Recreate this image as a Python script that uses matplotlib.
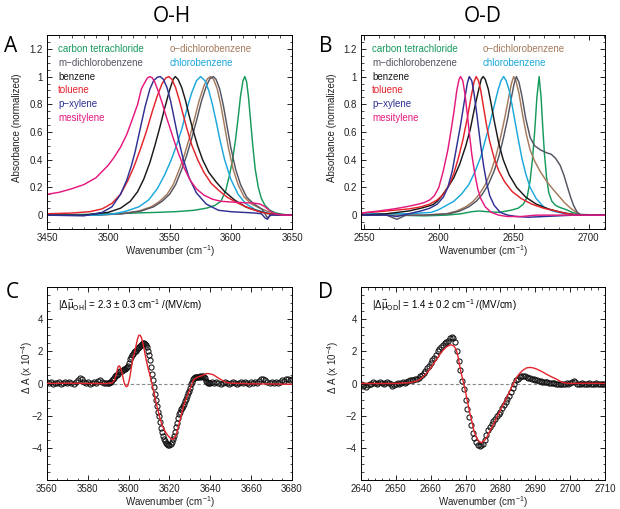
import numpy as np
import matplotlib
matplotlib.use("Agg")
import matplotlib.pyplot as plt
from matplotlib.ticker import AutoMinorLocator

plt.rcParams['font.family'] = ['Liberation Sans', 'DejaVu Sans']
plt.rcParams['mathtext.default'] = 'regular'
plt.rcParams['font.size'] = 7

# ---------------- Panel A (O-H) normalized spectra ----------------
solvents = ["carbon tetrachloride", "o\u2212dichlorobenzene", "m\u2212dichlorobenzene",
            "chlorobenzene", "benzene", "toluene", "p\u2212xylene", "mesitylene"]
colors = {"ccl4": "#169a5c", "odcb": "#a57a5c", "mdcb": "#555562", "cb": "#1ba8dc",
          "bz": "#1a1a1a", "tol": "#e3232a", "px": "#2e3192", "mes": "#e5197d"}

A_mes_x = [3450, 3460, 3470, 3480, 3490, 3500, 3505, 3510, 3515, 3520, 3524, 3527, 3530, 3532, 3534,
           3536, 3538, 3541, 3544, 3547, 3550, 3554, 3558, 3562, 3567, 3572, 3578, 3585, 3592, 3600,
           3610, 3618, 3624, 3628, 3632, 3636, 3642, 3650]
A_mes_y = [0.15, 0.165, 0.19, 0.22, 0.27, 0.36, 0.42, 0.49, 0.58, 0.70, 0.80, 0.91, 0.96, 0.99, 1.0,
           0.99, 0.96, 0.89, 0.81, 0.72, 0.64, 0.53, 0.43, 0.34, 0.25, 0.19, 0.145, 0.115, 0.10, 0.095,
           0.09, 0.088, 0.08, 0.06, 0.03, 0.01, 0.0, 0.0]

A_px_x = [3450, 3480, 3495, 3503, 3510, 3515, 3519, 3522, 3526, 3530, 3534, 3537, 3540, 3542.4, 3545,
          3548, 3551, 3554, 3557, 3561, 3566, 3572, 3580, 3590, 3600, 3610, 3620, 3625, 3628, 3630,
          3632, 3636, 3650]
A_px_y = [0.0, -0.005, 0.02, 0.06, 0.15, 0.25, 0.36, 0.46, 0.62, 0.78, 0.91, 0.97, 0.995, 1.0, 0.98,
          0.92, 0.82, 0.69, 0.56, 0.41, 0.27, 0.16, 0.08, 0.035, 0.025, 0.02, 0.015, 0.01, -0.02, -0.03,
          0.0, 0.0, 0.0]

A_tol_x = [3450, 3470, 3485, 3495, 3503, 3510, 3516, 3521, 3526, 3531, 3536, 3540, 3544, 3547, 3549.4,
           3552, 3555, 3558, 3561, 3564, 3568, 3573, 3578, 3584, 3590, 3597, 3605, 3615, 3625, 3635, 3650]
A_tol_y = [0.01, 0.015, 0.025, 0.045, 0.085, 0.15, 0.25, 0.35, 0.47, 0.60, 0.75, 0.86, 0.95, 0.99, 1.0,
           0.98, 0.92, 0.83, 0.73, 0.63, 0.51, 0.40, 0.31, 0.23, 0.18, 0.13, 0.09, 0.05, 0.02, 0.005, 0.0]

A_bz_x = [3450, 3480, 3500, 3510, 3518, 3524, 3529, 3534, 3538, 3542, 3546, 3550, 3553, 3554.7, 3557,
          3560, 3563, 3566, 3569, 3573, 3577, 3582, 3588, 3595, 3603, 3612, 3622, 3632, 3650]
A_bz_y = [0.0, 0.0, 0.02, 0.05, 0.1, 0.17, 0.26, 0.38, 0.5, 0.63, 0.77, 0.9, 0.98, 1.0, 0.98,
          0.92, 0.83, 0.72, 0.62, 0.5, 0.4, 0.31, 0.24, 0.17, 0.11, 0.06, 0.03, 0.008, 0.0]

A_cb_x = [3450, 3490, 3505, 3515, 3525, 3533, 3540, 3546, 3551, 3556, 3560, 3564, 3568, 3572, 3575.4,
          3579, 3582, 3585, 3588, 3591, 3595, 3600, 3606, 3612, 3620, 3630, 3640, 3650]
A_cb_y = [0.0, 0.0, 0.01, 0.03, 0.06, 0.11, 0.19, 0.29, 0.39, 0.51, 0.62, 0.76, 0.88, 0.97, 1.0,
          0.97, 0.9, 0.8, 0.68, 0.55, 0.4, 0.26, 0.15, 0.085, 0.04, 0.015, 0.0, 0.0]

A_odcb_x = [3450, 3490, 3510, 3525, 3535, 3542, 3548, 3553, 3558, 3562, 3566, 3570, 3574, 3578, 3581,
            3583.6, 3586, 3589, 3592, 3595, 3598, 3602, 3606, 3611, 3617, 3624, 3632, 3640, 3650]
A_odcb_y = [0.0, 0.0, 0.01, 0.03, 0.06, 0.1, 0.15, 0.22, 0.33, 0.43, 0.55, 0.68, 0.82, 0.93, 0.985,
            1.0, 0.98, 0.91, 0.79, 0.64, 0.49, 0.33, 0.22, 0.13, 0.08, 0.05, 0.02, 0.0, 0.0]

A_mdcb_x = [3450, 3490, 3512, 3527, 3537, 3544, 3550, 3555, 3560, 3564, 3568, 3572, 3576, 3580, 3583,
            3585.8, 3588, 3591, 3594, 3597, 3600, 3604, 3608, 3613, 3619, 3626, 3630, 3634, 3642, 3650]
A_mdcb_y = [0.0, 0.0, 0.01, 0.03, 0.06, 0.1, 0.15, 0.22, 0.33, 0.43, 0.55, 0.68, 0.82, 0.93, 0.985,
            1.0, 0.98, 0.91, 0.79, 0.64, 0.49, 0.33, 0.22, 0.13, 0.08, 0.04, -0.02, 0.01, 0.0, 0.0]

A_ccl4_x = [3450, 3480, 3500, 3520, 3540, 3555, 3570, 3580, 3587, 3592, 3596, 3599, 3601.5, 3604, 3606,
            3608, 3610, 3611.5, 3613, 3614.5, 3616, 3618, 3620, 3622.5, 3625, 3628, 3632, 3637, 3643, 3650]
A_ccl4_y = [0.0, 0.005, 0.01, 0.015, 0.02, 0.025, 0.035, 0.05, 0.07, 0.1, 0.18, 0.29, 0.4, 0.55, 0.7,
            0.86, 0.97, 1.0, 0.96, 0.85, 0.7, 0.5, 0.33, 0.2, 0.12, 0.07, 0.035, 0.015, 0.005, 0.0]

# ---------------- Panel B (O-D) normalized spectra ----------------
B_mes_x = [2548, 2560, 2570, 2578, 2585, 2590, 2594, 2597, 2600, 2603, 2606, 2608, 2610, 2612, 2613.5,
           2614.5, 2616, 2617.5, 2619, 2620.5, 2622, 2624, 2626, 2628, 2631, 2635, 2640, 2646, 2655, 2665,
           2680, 2695, 2711]
B_mes_y = [0.015, 0.03, 0.045, 0.06, 0.076, 0.09, 0.11, 0.14, 0.2, 0.32, 0.47, 0.6, 0.74, 0.9, 0.98,
           1.0, 0.97, 0.87, 0.73, 0.58, 0.44, 0.3, 0.19, 0.12, 0.06, 0.02, 0.0, -0.01, -0.01, 0.0,
           0.0, 0.0, 0.0]

B_px_x = [2548, 2565, 2572, 2580, 2588, 2594, 2599, 2603, 2606, 2609, 2612, 2614.5, 2617, 2619, 2620.3,
          2622, 2623.5, 2625, 2626.5, 2628, 2630, 2632, 2634, 2637, 2641, 2646, 2652, 2660, 2670, 2690, 2711]
B_px_y = [0.0, 0.0, -0.01, 0.01, 0.03, 0.05, 0.08, 0.13, 0.2, 0.32, 0.5, 0.65, 0.82, 0.95, 1.0,
          0.97, 0.88, 0.76, 0.63, 0.5, 0.35, 0.23, 0.14, 0.07, 0.02, 0.0, -0.01, -0.015, -0.01, 0.0, 0.0]

B_tol_x = [2548, 2560, 2570, 2580, 2588, 2594, 2599, 2603, 2607, 2610, 2613, 2616, 2619, 2621.5, 2623.5,
           2624.9, 2626.5, 2628, 2630, 2632, 2634, 2637, 2640, 2644, 2649, 2655, 2662, 2670, 2678, 2686,
           2695, 2711]
B_tol_y = [0.015, 0.025, 0.035, 0.045, 0.06, 0.08, 0.11, 0.15, 0.22, 0.3, 0.41, 0.54, 0.7, 0.85, 0.96,
           1.0, 0.97, 0.9, 0.77, 0.64, 0.53, 0.41, 0.32, 0.24, 0.17, 0.12, 0.08, 0.05, 0.03, 0.01,
           0.0, 0.0]

B_bz_x = [2548, 2565, 2580, 2588, 2593, 2596, 2599, 2602, 2606, 2610, 2614, 2618, 2621, 2624, 2626.5,
          2628.3, 2629.6, 2631, 2633, 2635, 2637, 2640, 2643, 2647, 2652, 2658, 2665, 2673, 2682, 2692, 2711]
B_bz_y = [0.0, 0.01, 0.03, 0.05, 0.065, 0.075, 0.1, 0.14, 0.2, 0.27, 0.37, 0.5, 0.62, 0.78, 0.9,
          0.98, 1.0, 0.98, 0.91, 0.8, 0.68, 0.52, 0.4, 0.29, 0.2, 0.13, 0.08, 0.045, 0.02, 0.0, 0.0]

B_cb_x = [2548, 2580, 2595, 2600, 2605, 2610, 2615, 2620, 2624, 2628, 2631, 2634, 2637, 2639.5, 2641.5,
          2643.3, 2645, 2647, 2649, 2651, 2653, 2655.5, 2658, 2661, 2665, 2670, 2676, 2684, 2695, 2711]
B_cb_y = [0.01, 0.01, 0.02, 0.04, 0.07, 0.1, 0.15, 0.22, 0.31, 0.42, 0.54, 0.66, 0.79, 0.9, 0.97,
          1.0, 0.97, 0.9, 0.79, 0.67, 0.55, 0.41, 0.3, 0.2, 0.12, 0.06, 0.03, 0.01, 0.0, 0.0]

B_odcb_x = [2548, 2590, 2605, 2612, 2618, 2623, 2627, 2631, 2635, 2638, 2641, 2644, 2646.5, 2648.5, 2650,
            2651.5, 2653.5, 2656, 2658.5, 2661, 2664, 2668, 2672, 2676, 2680, 2684, 2688, 2692, 2695, 2700, 2711]
B_odcb_y = [0.0, 0.0, 0.01, 0.03, 0.06, 0.1, 0.15, 0.22, 0.32, 0.42, 0.55, 0.7, 0.84, 0.95, 1.0,
            0.97, 0.88, 0.72, 0.58, 0.47, 0.39, 0.31, 0.245, 0.19, 0.14, 0.09, 0.05, 0.02, 0.0, 0.0, 0.0]

B_mdcb_x = [2548, 2565, 2572, 2578, 2590, 2607, 2614, 2620, 2625, 2629, 2633, 2637, 2640, 2643, 2646,
            2648.5, 2650.3, 2651.8, 2653.5, 2655.5, 2658, 2661, 2664, 2668, 2672, 2675, 2678, 2681, 2683.5, 2686,
            2688, 2690, 2692.5, 2695, 2700, 2711]
B_mdcb_y = [0.0, 0.0, -0.03, 0.0, 0.0, 0.01, 0.03, 0.06, 0.1, 0.15, 0.22, 0.32, 0.42, 0.55, 0.7,
            0.85, 0.95, 1.0, 0.96, 0.86, 0.7, 0.56, 0.5, 0.47, 0.45, 0.44, 0.41, 0.36, 0.29, 0.2,
            0.13, 0.07, 0.02, 0.0, 0.0, 0.0]

B_ccl4_x = [2548, 2570, 2590, 2605, 2615, 2622, 2627, 2632, 2640, 2648, 2653, 2656.5, 2659, 2661, 2662.5,
            2664, 2665.5, 2667, 2668.3, 2669.5, 2670.5, 2672, 2673.5, 2675.5, 2678, 2681, 2685, 2689, 2695, 2711]
B_ccl4_y = [0.0, 0.0, -0.005, 0.0, 0.01, 0.025, 0.03, 0.025, 0.02, 0.035, 0.05, 0.08, 0.13, 0.25, 0.4,
            0.6, 0.85, 1.0, 0.85, 0.62, 0.45, 0.27, 0.16, 0.1, 0.07, 0.055, 0.04, 0.02, 0.005, 0.0]

# ---------------- Panel C (O-H Stark) ----------------
C_x1 = np.arange(3560, 3591, 1.0)
C_y1 = [0.1, 0.05, 0.1, 0.0, 0.05, 0.05, 0.1, 0.0, 0.05, 0.1,
        0.05, 0.1, 0.05, 0.0, 0.1, 0.2, 0.35, 0.3, 0.1, 0.05,
        0.1, 0.0, 0.05, 0.1, 0.05, 0.15, 0.2, 0.1, 0.05, 0.05,
        0.05]
C_x2 = np.arange(3590.5, 3640.5, 0.5)
C_y2 = [0.05, 0.1, 0.1, 0.2, 0.3, 0.37, 0.45, 0.5, 0.55, 0.62,
        0.69, 0.75, 0.8, 0.85, 0.88, 0.9, 0.95, 1.0, 1.1, 1.3,
        1.5, 1.65, 1.75, 1.85, 1.95, 2.0, 2.05, 2.15, 2.2, 2.3,
        2.35, 2.4, 2.45, 2.5, 2.5, 2.45, 2.4, 2.25, 2.05, 1.8,
        1.45, 1.05, 0.6, 0.2, -0.2, -0.65, -1.05, -1.4, -1.75, -2.05,
        -2.4, -2.75, -3.0, -3.25, -3.45, -3.6, -3.7, -3.78, -3.82, -3.8,
        -3.75, -3.65, -3.45, -3.25, -3.0, -2.7, -2.45, -2.15, -1.9, -1.75,
        -1.6, -1.5, -1.4, -1.25, -1.1, -0.95, -0.8, -0.6, -0.45, -0.25,
        -0.05, 0.1, 0.25, 0.35, 0.4, 0.4, 0.42, 0.4, 0.42, 0.45,
        0.42, 0.45, 0.45, 0.4, 0.35, 0.15, 0.1, 0.05, 0.05, 0.05]
C_x3 = np.arange(3641, 3681, 1.0)
C_y3 = [0.1, 0.05, 0.1, 0.05, 0.0, 0.05, 0.1, 0.05, 0.0, 0.05,
        0.1, 0.05, 0.0, 0.05, 0.1, 0.05, 0.1, 0.05, 0.0, 0.1,
        0.05, 0.1, 0.05, 0.15, 0.25, 0.3, 0.2, 0.1, 0.05, 0.1,
        0.05, 0.1, 0.05, 0.1, 0.2, 0.15, 0.25, 0.3, 0.2, 0.3]

C_fit_x = [3560, 3570, 3580, 3585, 3590, 3592, 3593, 3594, 3594.8, 3595.5, 3596.4, 3597, 3597.7, 3598.3, 3598.9,
           3599.5, 3600.2, 3600.8, 3601.3, 3602, 3603, 3603.7, 3604.3, 3605, 3605.6, 3606.2, 3606.8, 3607.4, 3608, 3608.7,
           3609.5, 3610.3, 3611.1, 3612, 3612.8, 3613.6, 3614.4, 3615.2, 3616.4, 3617.7, 3619, 3620.2, 3621, 3621.8, 3622.6,
           3623.4, 3624.2, 3625.1, 3625.9, 3626.7, 3627.5, 3628.4, 3629.2, 3630, 3630.8, 3631.6, 3632.5, 3633.3, 3634.5, 3635.7,
           3637, 3638.2, 3639.8, 3641.5, 3643, 3644.8, 3646.5, 3648, 3650, 3655, 3660, 3670, 3680]
C_fit_y = [0.0, 0.02, 0.0, 0.0, 0.0, 0.05, 0.2, 0.6, 1.05, 1.1, 0.85, 0.5, 0.1, -0.12, -0.2,
           -0.15, 0.17, 0.55, 1.0, 1.5, 2.0, 2.4, 2.75, 3.0, 3.0, 2.87, 2.6, 2.25, 1.85, 1.4,
           0.95, 0.58, 0.15, -0.35, -0.8, -1.3, -1.7, -2.1, -2.6, -2.95, -3.2, -3.37, -3.45, -3.47, -3.35,
           -3.15, -2.75, -2.3, -1.9, -1.5, -1.15, -0.87, -0.6, -0.35, -0.1, 0.17, 0.3, 0.37, 0.43, 0.48,
           0.55, 0.62, 0.6, 0.54, 0.42, 0.27, 0.15, 0.06, 0.02, 0.0, -0.02, -0.03, -0.05]

# ---------------- Panel D (O-D Stark) ----------------
D_x1 = np.arange(2640, 2655.5, 0.5)
D_y1 = [-0.05, -0.15, -0.1, -0.2, -0.1, -0.05, 0.0, 0.1, 0.05, 0.0,
        0.05, 0.1, 0.05, 0.0, 0.05, 0.1, 0.05, -0.05, -0.15, -0.1,
        0.0, 0.05, 0.0, 0.05, 0.1, 0.05, 0.1, 0.15, 0.2, 0.2,
        0.2]
D_x2 = np.arange(2655.5, 2690.5, 0.5)
D_y2 = [0.25, 0.3, 0.37, 0.45, 0.55, 0.65, 0.8, 0.95, 1.1, 1.25,
        1.45, 1.6, 1.8, 2.0, 2.15, 2.3, 2.4, 2.5, 2.6, 2.65,
        2.8, 2.87, 2.85, 2.6, 2.05, 1.4, 0.85, 0.15, -0.35, -1.0,
        -1.6, -2.1, -2.6, -3.05, -3.4, -3.65, -3.8, -3.88, -3.85, -3.75,
        -3.5, -3.2, -2.9, -2.7, -2.5, -2.35, -2.2, -2.05, -1.9, -1.75,
        -1.55, -1.35, -1.15, -0.95, -0.75, -0.5, -0.25, 0.0, 0.2, 0.3,
        0.4, 0.45, 0.48, 0.47, 0.42, 0.37, 0.33, 0.3, 0.27, 0.22]
D_x3 = np.arange(2690.5, 2710.5, 0.5)
D_y3 = [0.2, 0.17, 0.15, 0.12, 0.1, 0.08, 0.07, 0.06, 0.05, 0.03,
        0.02, 0.0, -0.02, -0.04, -0.05, -0.03, 0.0, 0.05, 0.0, 0.05,
        0.1, 0.17, 0.1, 0.0, -0.05, 0.0, 0.05, 0.0, -0.05, 0.0,
        0.05, 0.0, -0.05, 0.0, 0.05, 0.0, -0.05, 0.0, 0.0, -0.05]

D_fit_x = [2640, 2650, 2654, 2656, 2657, 2658.4, 2659.8, 2661.2, 2662.7, 2663.6, 2664.6, 2665.7, 2666.7, 2667.4, 2667.9,
           2668.4, 2668.9, 2669.4, 2669.9, 2670.3, 2670.8, 2671.3, 2671.9, 2672.4, 2673, 2673.7, 2674.6, 2675.6, 2676.3, 2677,
           2678, 2678.9, 2679.9, 2680.8, 2681.8, 2682.7, 2683.6, 2684.6, 2685.6, 2686.6, 2687.5, 2688.5, 2689.4, 2690.4, 2691.8,
           2693.2, 2694.6, 2696.1, 2697, 2698, 2700, 2705, 2710]
D_fit_y = [0.0, 0.0, 0.05, 0.15, 0.27, 0.55, 0.9, 1.35, 1.83, 2.08, 2.29, 2.41, 2.33, 2.05, 1.6,
           1.0, 0.5, 0.06, -0.4, -0.87, -1.4, -1.9, -2.45, -2.95, -3.3, -3.58, -3.68, -3.5, -3.25, -2.95,
           -2.55, -2.12, -1.7, -1.29, -0.88, -0.46, -0.05, 0.37, 0.65, 0.85, 0.97, 1.0, 0.97, 0.9, 0.75,
           0.58, 0.42, 0.27, 0.15, 0.05, 0.0, 0.02, 0.0]

C_text = r'$|\Delta\vec{\mu}_{\rm OH}|$ = 2.3 $\pm$ 0.3 cm$^{-1}$ /(MV/cm)'
D_text = r'$|\Delta\vec{\mu}_{\rm OD}|$ = 1.4 $\pm$ 0.2 cm$^{-1}$ /(MV/cm)'

# ------------------------------------------------------------------
fig = plt.figure(figsize=(6.2, 5.09), dpi=100)
W, H = 620.0, 509.0


def mkax(l, r, t, b):
    return fig.add_axes([l / W, 1 - b / H, (r - l) / W, (b - t) / H])


axA = mkax(47, 292, 35, 229)
axB = mkax(361, 605, 35, 229)
axC = mkax(47, 292, 287, 480)
axD = mkax(361, 605, 287, 480)


def style(ax, xminor, yminor, xlab_y):
    ax.xaxis.set_minor_locator(AutoMinorLocator(xminor))
    ax.yaxis.set_minor_locator(AutoMinorLocator(yminor))
    ax.tick_params(which='both', direction='in', top=True, right=True, labelsize=7, pad=3,
                   labelcolor='#222222')
    ax.tick_params(which='major', length=3.5, width=0.6)
    ax.tick_params(which='minor', length=1.8, width=0.5)
    for s in ax.spines.values():
        s.set_linewidth(0.7)
    ax.set_xlabel('Wavenumber (cm$^{-1}$)', fontsize=7, color='#222222')
    ax.xaxis.set_label_coords(0.5, xlab_y)


lw = 1.05
series_A = [(A_ccl4_x, A_ccl4_y, "ccl4"), (A_odcb_x, A_odcb_y, "odcb"), (A_mdcb_x, A_mdcb_y, "mdcb"),
            (A_cb_x, A_cb_y, "cb"), (A_bz_x, A_bz_y, "bz"), (A_tol_x, A_tol_y, "tol"),
            (A_px_x, A_px_y, "px"), (A_mes_x, A_mes_y, "mes")]
series_B = [(B_ccl4_x, B_ccl4_y, "ccl4"), (B_odcb_x, B_odcb_y, "odcb"), (B_mdcb_x, B_mdcb_y, "mdcb"),
            (B_cb_x, B_cb_y, "cb"), (B_bz_x, B_bz_y, "bz"), (B_tol_x, B_tol_y, "tol"),
            (B_px_x, B_px_y, "px"), (B_mes_x, B_mes_y, "mes")]
keys = ["ccl4", "odcb", "mdcb", "cb", "bz", "tol", "px", "mes"]
label_pos = [(0.045, 1.2), (0.5, 1.2), (0.045, 1.1), (0.5, 1.1),
             (0.045, 1.0), (0.045, 0.9), (0.045, 0.8), (0.045, 0.7)]

for ax, series, xlim, xt in [(axA, series_A, (3450, 3650), [3450, 3500, 3550, 3600, 3650]),
                             (axB, series_B, (2548, 2711), [2550, 2600, 2650, 2700])]:
    for xs, ys, k in series:
        ax.plot(xs, ys, color=colors[k], lw=lw)
    ax.set_xlim(*xlim)
    ax.set_ylim(-0.1, 1.3)
    ax.set_xticks(xt)
    ax.set_yticks([0, 0.2, 0.4, 0.6, 0.8, 1.0, 1.2])
    ax.set_yticklabels(['0', '0.2', '0.4', '0.6', '0.8', '1', '1.2'])
    style(ax, 5, 4, -0.075)
    ax.set_ylabel('Absorbance (normalized)', fontsize=7, color='#222222')
    ax.yaxis.set_label_coords(-0.1, 0.52)
    tr = ax.get_yaxis_transform()
    for name, k, (px_, py_) in zip(solvents, keys, label_pos):
        ax.text(px_, py_, name, color=colors[k], transform=tr, fontsize=7, va='center', ha='left')

for ax, xs_list, ys_list, fx, fy, xlim, xt, txt, ylx in [
        (axC, [C_x1, C_x2, C_x3], [C_y1, C_y2, C_y3], C_fit_x, C_fit_y, (3560, 3680),
         [3560, 3580, 3600, 3620, 3640, 3660, 3680], C_text, -0.05),
        (axD, [D_x1, D_x2, D_x3], [D_y1, D_y2, D_y3], D_fit_x, D_fit_y, (2640, 2710),
         [2640, 2650, 2660, 2670, 2680, 2690, 2700, 2710], D_text, -0.08)]:
    ax.axhline(0, color='#8a8a8a', lw=0.8, ls=(0, (3, 2)), zorder=1)
    xs = np.concatenate(xs_list)
    ys = np.concatenate([np.asarray(y, float) for y in ys_list])
    ax.plot(xs, ys, ls='none', marker='o', ms=3.7, mfc='none', mec='#111111', mew=0.75, zorder=2)
    ax.plot(fx, fy, color='#e3232a', lw=1.0, zorder=3)
    ax.set_xlim(*xlim)
    ax.set_ylim(-6, 6)
    ax.set_xticks(xt)
    ax.set_yticks([-4, -2, 0, 2, 4])
    style(ax, 4 if ax is axC else 5, 4, -0.073)
    ax.set_ylabel('\u0394 A (x 10$^{-4}$)', fontsize=7, color='#222222')
    ax.yaxis.set_label_coords(ylx, 0.585)
    ax.text(0.045, 4.85, txt, transform=ax.get_yaxis_transform(), fontsize=7, va='center', ha='left')

# panel letters and titles
big = dict(fontsize=15, family=['Open Sans', 'DejaVu Sans'], va='center', ha='center')
fig.text(11 / W, 1 - 47 / H, 'A', **big)
fig.text(326 / W, 1 - 47 / H, 'B', **big)
fig.text(12 / W, 1 - 292 / H, 'C', **big)
fig.text(326 / W, 1 - 292 / H, 'D', **big)
fig.text(172 / W, 1 - 16 / H, 'O-H', **big)
fig.text(483 / W, 1 - 16 / H, 'O-D', **big)

fig.savefig('out.png', dpi=100)
